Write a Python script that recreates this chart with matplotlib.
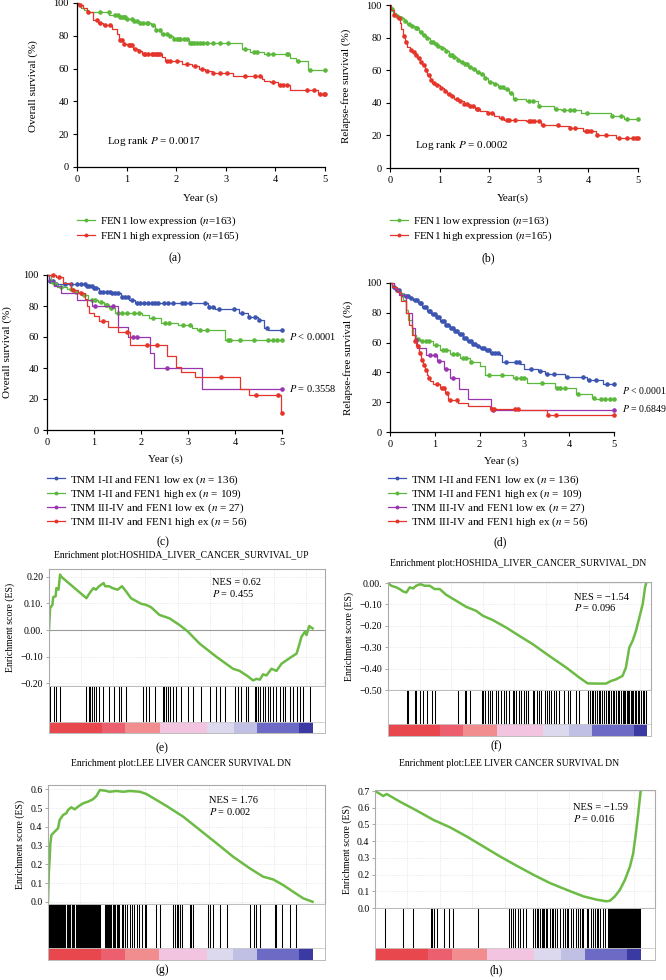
import numpy as np
import matplotlib
matplotlib.use('Agg')
import matplotlib.pyplot as plt
from matplotlib.lines import Line2D

plt.rcParams['font.family'] = ['Liberation Serif', 'DejaVu Serif']
plt.rcParams['mathtext.fontset'] = 'stix'

GREEN = '#5cb83c'
RED = '#e5352b'
BLUE = '#3b55b0'
PURPLE = '#9a35b0'
ES_GREEN = '#6cbb45'

# ---------------- Kaplan-Meier data (years, %) ----------------
# (a) overall survival
a_low_t = [0, 0.03, 0.08, 0.15, 0.22, 0.65, 0.85, 0.99, 1.12, 1.25, 1.5, 1.58, 1.7, 1.85, 1.93,
           2.25, 3.32, 3.48, 3.78, 4.3, 4.42, 4.65, 5.0]
a_low_s = [100, 98.5, 97, 96, 94.5, 92.5, 91.5, 90.4, 89, 88, 86.4, 83.3, 81.3, 80, 77.8,
           75.6, 72, 70, 68.7, 66.7, 64.4, 59.3, 59.3]
a_low_c = [0.47, 0.64, 0.77, 0.82, 0.87, 0.91, 0.94, 0.97, 1.01, 1.11, 1.14, 1.21, 1.28, 1.34, 1.41,
           1.44, 1.54, 1.6, 1.68, 1.74, 1.81, 1.88, 1.95, 2.01, 2.05, 2.08, 2.15, 2.21, 2.28, 2.32,
           2.35, 2.42, 2.48, 2.55, 2.62, 2.75, 2.89, 3.05, 3.39, 3.56, 3.62, 3.85, 3.96, 4.23, 4.26,
           4.46, 4.7, 5.0]
a_high_t = [0, 0.05, 0.12, 0.2, 0.33, 0.42, 0.52, 0.7, 0.8, 0.84, 0.92, 1.02, 1.12, 1.22, 1.32, 1.72,
            1.78, 2.12, 2.32, 2.45, 2.58, 2.72, 3.15, 3.72, 3.78, 3.9, 4.05, 4.3, 4.85, 5.0]
a_high_s = [100, 98.5, 97, 94.5, 89.4, 88, 86.4, 84.3, 81.3, 77.2, 75.2, 74.2, 72, 70.7, 69, 67,
            64.4, 62.6, 61.4, 60, 58.5, 57.3, 55.3, 53.9, 52.4, 51.8, 49.8, 47.2, 44.3, 44.3]
a_high_c = [0.07, 0.23, 0.4, 0.47, 0.57, 0.67, 0.87, 0.9, 0.95, 1.05, 1.07, 1.11, 1.17, 1.24, 1.35,
            1.38, 1.44, 1.51, 1.54, 1.58, 1.61, 1.64, 1.68, 1.81, 1.88, 2.01, 2.21, 2.37, 2.52, 2.62,
            2.75, 2.89, 3.02, 3.39, 3.59, 3.69, 3.95, 4.09, 4.16, 4.23, 4.63, 4.77, 4.9, 4.97, 5.0]

# (b) relapse-free survival
b_low_t = [0, 0.02, 0.06, 0.12, 0.2, 0.28, 0.35, 0.42, 0.5, 0.58, 0.65, 0.72, 0.8, 0.88, 0.95, 1.02,
           1.1, 1.18, 1.26, 1.35, 1.42, 1.5, 1.58, 1.66, 1.74, 1.82, 1.9, 1.98, 2.08, 2.18, 2.3, 2.4,
           2.48, 2.75, 2.98, 3.3, 3.45, 3.85, 4.45, 4.72, 5.0]
b_low_s = [100, 97.5, 95, 93, 91.8, 90, 88.5, 87, 85.7, 83.5, 81.5, 80, 77.6, 76, 75, 73.5, 71.5,
           69.5, 68, 66.5, 65, 63.5, 62, 60.5, 59, 57.5, 55.5, 53, 51.5, 49.5, 48.4, 46, 42.2, 40.8,
           38.2, 36.1, 35.3, 33.7, 32.0, 30.2, 30.2]
b_low_c = [0.05, 0.15, 0.22, 0.3, 0.38, 0.45, 0.52, 0.55, 0.62, 0.68, 0.75, 0.82, 0.86, 0.92, 0.97,
           1.05, 1.12, 1.2, 1.24, 1.3, 1.38, 1.45, 1.52, 1.55, 1.62, 1.7, 1.78, 1.85, 1.92, 2.02,
           2.12, 2.22, 2.27, 2.35, 2.44, 2.52, 2.8, 2.88, 3.0, 3.35, 3.5, 3.62, 3.7, 3.98, 4.48,
           4.65, 4.78, 5.0]
b_high_t = [0, 0.03, 0.08, 0.15, 0.2, 0.23, 0.26, 0.3, 0.35, 0.4, 0.45, 0.5, 0.55, 0.6, 0.65, 0.7,
            0.75, 0.8, 0.85, 0.9, 1.0, 1.08, 1.15, 1.22, 1.3, 1.4, 1.5, 1.6, 1.72, 1.82, 1.95, 2.1,
            2.2, 2.3, 2.75, 3.05, 3.4, 3.6, 3.9, 4.15, 4.55, 5.0]
b_high_s = [100, 97, 94, 92, 88.8, 85, 81, 77.5, 74.5, 72.5, 71, 69.4, 67.5, 65.3, 63, 60.2, 57, 54,
            52, 51, 49, 47, 45.5, 44, 42.5, 40.8, 39.5, 38.2, 36.5, 35.1, 33.7, 32, 30.6, 29.6, 28.6,
            26.5, 25.5, 24.5, 22.4, 20.4, 18.4, 18.4]
b_high_c = [0.08, 0.18, 0.28, 0.33, 0.42, 0.48, 0.52, 0.58, 0.62, 0.68, 0.72, 0.78, 0.82, 0.88, 0.95,
            1.02, 1.1, 1.18, 1.25, 1.35, 1.42, 1.5, 1.55, 1.62, 1.68, 1.75, 1.78, 1.98, 2.05, 2.25,
            2.35, 2.4, 2.52, 2.8, 2.85, 2.9, 3.0, 3.08, 3.38, 3.62, 3.72, 3.95, 4.0, 4.05, 4.18,
            4.35, 4.62, 4.78, 4.9, 4.95, 5.0]

# (c) overall survival by TNM stage
c_blue_t = [0, 0.05, 0.15, 0.82, 0.98, 1.1, 1.38, 1.58, 1.74, 1.88, 3.42, 3.58, 4.08, 4.28, 4.48,
            4.62, 4.7, 5.0]
c_blue_s = [100, 96, 94.5, 92.9, 91.4, 89.2, 88.2, 86, 83.9, 81.7, 79.6, 78.1, 75.7, 73.1, 71, 66,
            64.5, 64.5]
c_blue_c = [0.06, 0.13, 0.2, 0.38, 0.52, 0.63, 0.73, 0.8, 0.85, 0.9, 0.95, 1.0, 1.05, 1.12, 1.19,
            1.27, 1.34, 1.39, 1.44, 1.51, 1.59, 1.66, 1.73, 1.8, 1.92, 1.98, 2.06, 2.15, 2.23, 2.3,
            2.37, 2.48, 2.58, 2.69, 2.87, 2.94, 3.04, 3.36, 3.44, 3.54, 3.65, 3.97, 4.15, 4.29,
            4.43, 4.5, 4.68, 5.0]
c_green_t = [0, 0.08, 0.22, 0.42, 0.58, 0.72, 0.88, 1.08, 1.22, 1.32, 1.44, 2.02, 2.18, 2.42, 2.78,
             3.08, 3.2, 3.78, 5.0]
c_green_s = [100, 95, 92, 90.8, 89.2, 87, 83.9, 82.8, 80.6, 78.5, 75.3, 74.2, 72, 68.8, 67.7, 65.5,
             64.5, 58, 58]
c_green_c = [0.15, 0.3, 0.5, 0.62, 0.78, 0.95, 1.02, 1.15, 1.25, 1.28, 1.36, 1.5, 1.6, 1.7, 1.85,
             1.95, 2.25, 2.5, 2.6, 2.9, 3.05, 3.25, 3.4, 3.85, 3.9, 4.1, 4.4, 4.7, 4.8, 4.9, 5.0]
c_purple_t = [0, 0.05, 0.15, 0.3, 0.64, 0.95, 1.5, 1.72, 2.2, 2.27, 3.3, 5.0]
c_purple_s = [100, 96, 92.6, 88.2, 84, 80, 66.6, 60.2, 49.5, 39.8, 26.3, 26.3]
c_purple_c = [1.02, 1.4, 1.83, 1.92, 2.55, 5.0]
c_red_t = [0, 0.2, 0.35, 0.5, 0.65, 0.8, 0.85, 0.9, 1.0, 1.1, 1.3, 1.51, 1.76, 2.55, 2.75, 2.85,
           3.15, 4.1, 4.3, 4.98, 5.0]
c_red_s = [100, 98.7, 94.6, 90.3, 88.2, 84.3, 80, 75.3, 73.5, 70.3, 66.7, 63.5, 54.8, 47.7, 40.9,
           37.2, 34.4, 26.3, 22.6, 11.2, 11.2]
c_red_c = [0.13, 0.25, 0.55, 0.72, 1.2, 1.7, 2.13, 2.33, 3.7, 4.45, 4.92, 5.0]

# (d) relapse-free survival by TNM stage
d_blue_t = [0, 0.05, 0.12, 0.22, 0.32, 0.42, 0.52, 0.62, 0.72, 0.82, 0.92, 1.02, 1.12, 1.22, 1.33,
            1.42, 1.52, 1.62, 1.71, 1.82, 1.92, 2.0, 2.12, 2.23, 2.45, 2.5, 2.9, 3.0, 3.3, 3.45,
            3.9, 4.4, 4.75, 5.0]
d_blue_s = [100, 97.5, 95, 92.2, 91, 90, 88.8, 86.5, 84, 81.5, 79.5, 77.5, 74.8, 72, 69.8, 67.5,
            65.5, 63, 60.8, 59.2, 57.8, 56.4, 54.8, 53, 51.9, 47, 45.6, 42.3, 40.7, 39.1, 36.9, 35.1,
            32.4, 32.4]
d_blue_c = [0.08, 0.15, 0.2, 0.28, 0.35, 0.4, 0.46, 0.55, 0.6, 0.66, 0.7, 0.76, 0.8, 0.86, 0.9,
            0.96, 1.0, 1.06, 1.1, 1.16, 1.2, 1.26, 1.3, 1.36, 1.4, 1.45, 1.5, 1.56, 1.6, 1.66, 1.7,
            1.76, 1.8, 1.86, 1.9, 1.96, 2.05, 2.1, 2.16, 2.2, 2.28, 2.35, 2.42, 2.6, 2.82, 2.88,
            3.15, 3.35, 3.5, 3.65, 3.95, 4.3, 4.45, 4.6, 4.85, 5.0]
d_green_t = [0, 0.08, 0.2, 0.3, 0.35, 0.4, 0.5, 0.52, 0.58, 0.67, 0.97, 1.11, 1.34, 1.56, 1.78,
             2.0, 2.12, 2.75, 3.05, 3.68, 4.16, 4.5, 4.58, 5.0]
d_green_s = [100, 96, 93.3, 88.8, 82, 75.3, 69.8, 65.3, 62.5, 60.8, 58.6, 54.8, 52.6, 49.7, 47, 44,
             38.5, 36.2, 32.9, 29.5, 25.7, 22.8, 22, 22]
d_green_c = [0.62, 0.72, 0.8, 0.88, 1.02, 1.18, 1.25, 1.4, 1.5, 1.62, 1.7, 1.8, 2.2, 2.5, 2.82,
             2.92, 3.0, 3.4, 3.72, 3.8, 3.9, 4.2, 4.55, 4.7, 4.8, 4.9, 5.0]
d_purple_t = [0, 0.1, 0.2, 0.35, 0.5, 0.55, 0.6, 0.8, 1.05, 1.2, 1.35, 1.55, 1.75, 2.25, 5.0]
d_purple_s = [100, 96, 92, 80.1, 69.8, 62, 56.4, 51.9, 47.4, 42.3, 36.2, 28.9, 22.2, 14.6, 14.6]
d_purple_c = [0.58, 0.9, 1.0, 1.1, 1.25, 1.4, 2.3, 5.0]
d_red_t = [0, 0.05, 0.15, 0.25, 0.35, 0.42, 0.48, 0.55, 0.59, 0.64, 0.7, 0.74, 0.78, 0.82, 0.85,
           0.9, 0.97, 1.11, 1.23, 1.3, 1.52, 1.75, 2.23, 2.86, 3.5, 5.0]
d_red_s = [100, 97, 94, 88, 80, 72, 65, 61, 57.5, 53, 48.5, 45, 41.8, 38.5, 36.2, 34, 32.4, 29.5,
           26.1, 21.7, 19.5, 17.2, 15.4, 15, 11.6, 11.6]
d_red_c = [0.55, 0.62, 0.68, 0.72, 0.76, 0.8, 0.88, 1.05, 1.15, 1.2, 1.28, 1.35, 1.5, 2.28, 2.32,
           2.8, 2.85, 3.52, 3.7, 5.0]

# ---------------- GSEA data (gene rank scaled 0-1000) ----------------
e_rank = [0, 4, 13, 16, 25, 28, 36, 42, 44, 142, 150, 159, 169, 178, 190, 207, 213, 228, 241, 260,
          277, 292, 311, 349, 368, 387, 419, 457, 495, 527, 571, 635, 698, 723, 755, 774, 787, 800,
          812, 825, 844, 863, 882, 901, 920, 939, 945, 958, 971, 977, 987, 1000]
e_es = [0.0, 0.082, 0.095, 0.124, 0.127, 0.158, 0.152, 0.209, 0.203, 0.12, 0.133, 0.146, 0.158,
        0.152, 0.165, 0.177, 0.165, 0.165, 0.158, 0.152, 0.165, 0.146, 0.12, 0.099, 0.095, 0.086,
        0.057, 0.044, 0.019, -0.006, -0.051, -0.101, -0.146, -0.154, -0.175, -0.19, -0.184, -0.187,
        -0.167, -0.171, -0.146, -0.154, -0.127, -0.114, -0.101, -0.089, -0.07, -0.025, -0.006,
        -0.019, 0.015, 0.006]
e_hits = [3, 19, 28, 41, 140, 150, 155, 162, 169, 178, 190, 203, 228, 247, 264, 273, 292, 358, 368,
          378, 404, 431, 438, 444, 451, 459, 470, 482, 501, 527, 546, 577, 612, 635, 650, 666, 704,
          717, 730, 746, 755, 780, 787, 793, 799, 812, 819, 831, 840, 850, 863, 876, 888, 895, 914,
          926, 939, 952, 964, 990]

f_rank = [0, 13, 32, 45, 58, 71, 84, 97, 109, 125, 142, 161, 180, 200, 225, 264, 302, 341, 367, 405,
          457, 508, 560, 624, 689, 740, 772, 804, 843, 862, 882, 907, 920, 933, 946, 959, 972, 985,
          994, 1000]
f_es = [0.0, -0.0125, -0.02, -0.028, -0.039, -0.044, -0.02, -0.025, -0.0125, -0.005, -0.0125,
        -0.0125, -0.028, -0.028, -0.055, -0.083, -0.111, -0.13, -0.153, -0.173, -0.208, -0.247,
        -0.286, -0.341, -0.395, -0.442, -0.469, -0.47, -0.47, -0.458, -0.45, -0.434, -0.395, -0.302,
        -0.27, -0.223, -0.161, -0.098, -0.02, 0.006]
f_hits = [73, 79, 103, 109, 125, 135, 151, 171, 180, 270, 296, 302, 318, 364, 369, 377, 386, 393,
          403, 416, 425, 438, 447, 457, 467, 483, 489, 495, 506, 515, 524, 532, 541, 560, 566, 575,
          583, 592, 609, 614, 622, 631, 640, 650, 663, 682, 695, 704, 727, 740, 772, 781, 789, 794,
          802, 807, 815, 820, 828, 837, 843, 849, 856, 862, 869, 875, 882, 888, 894, 901, 907, 914,
          918, 923, 928, 933, 938, 943, 949, 954, 959, 965, 972, 978, 985, 991, 997]

g_rank = [0, 3, 6, 9, 13, 25, 38, 44, 57, 69, 76, 88, 101, 113, 132, 151, 170, 183, 196, 214, 233,
          259, 284, 309, 347, 372, 410, 448, 511, 574, 637, 700, 763, 813, 851, 889, 927, 965, 1000]
g_es = [0.0, 0.151, 0.223, 0.312, 0.356, 0.374, 0.392, 0.436, 0.463, 0.472, 0.49, 0.504, 0.493,
        0.507, 0.525, 0.534, 0.547, 0.564, 0.596, 0.593, 0.587, 0.591, 0.587, 0.591, 0.587, 0.575,
        0.543, 0.511, 0.454, 0.383, 0.312, 0.24, 0.178, 0.134, 0.119, 0.089, 0.053, 0.018, 0.0]
g_hits = [0, 3, 6, 9, 12, 15, 19, 22, 26, 30, 34, 38, 42, 45, 50, 54, 58, 62, 65, 70, 74, 78, 82,
          85, 89, 92, 96, 100, 105, 109, 112, 116, 120, 124, 128, 132, 135, 140, 144, 148, 152, 155,
          159, 162, 166, 170, 174, 178, 182, 185, 190, 194, 198, 215, 220, 224, 228, 232, 235, 240,
          244, 248, 255, 262, 266, 270, 278, 285, 292, 300, 310, 318, 325, 335, 345, 355, 365, 372,
          410, 422, 473, 479, 486, 492, 498, 508, 536, 542, 549, 605, 614, 624, 649, 675, 763, 778,
          788, 801, 857, 861, 883, 914, 939]

h_rank = [0, 19, 31, 44, 94, 157, 220, 282, 345, 408, 471, 533, 596, 659, 721, 784, 834, 872, 885,
          903, 922, 941, 960, 972, 982, 991, 1000]
h_es = [0.7, 0.682, 0.67, 0.682, 0.636, 0.583, 0.527, 0.483, 0.428, 0.368, 0.308, 0.253, 0.199,
        0.149, 0.109, 0.07, 0.05, 0.04, 0.044, 0.07, 0.109, 0.169, 0.249, 0.328, 0.447, 0.567, 0.7]
h_hits = [38, 107, 142, 211, 216, 222, 235, 261, 280, 292, 389, 506, 511, 521, 527, 540, 546, 558,
          569, 596, 602, 609, 615, 621, 628, 634, 638, 644, 649, 659, 665, 671, 678, 686, 697, 707,
          715, 722, 728, 737, 747, 757, 763, 772, 778, 784, 797, 803, 812, 822, 828, 835, 841, 847,
          857, 866, 878, 881, 884, 887, 890, 893, 896, 899, 902, 905, 908, 911, 914, 917, 920, 923,
          926, 929, 932, 935, 938, 941, 944, 947, 950, 953, 956, 959, 962, 965, 968, 971, 974, 977,
          980, 983, 986, 989, 992, 995, 998]

# ranked-list colour bar bands
band_edges = [0, 200, 290, 420, 600, 700, 790, 950, 1000]
band_colors = ['#e8474d', '#eb5f6e', '#f28d8f', '#f2c4df', '#dcd9ef', '#c0bfe4', '#6d6ac6', '#3b3aa3']

W, H = 666, 980
fig = plt.figure(figsize=(W / 100, H / 100), dpi=100)


def rect(x0, y0, x1, y1):
    return [x0 / W, 1 - y1 / H, (x1 - x0) / W, (y1 - y0) / H]


def ftext(x, y, s, **kw):
    fig.text(x / W, 1 - y / H, s, **kw)


def km_axes(r):
    ax = fig.add_axes(r)
    ax.set_xlim(0, 5)
    ax.set_ylim(0, 100)
    ax.set_xticks(range(6))
    ax.set_yticks(range(0, 101, 20))
    for s in ['top', 'right']:
        ax.spines[s].set_visible(False)
    for s in ['left', 'bottom']:
        ax.spines[s].set_linewidth(0.9)
    ax.tick_params(direction='out', length=3, width=0.8, labelsize=7.5, pad=3)
    return ax


def km(ax, t, s, c, color):
    t = np.array(t)
    s = np.array(s)
    ax.step(t, s, where='post', color=color, lw=0.9, clip_on=False)
    c = np.array(c)
    cy = s[np.searchsorted(t, c, side='right') - 1]
    ax.plot(c, cy, 'o', ms=2.3, color=color, clip_on=False)


def km_legend(x, y, colors, labels):
    handles = [Line2D([], [], color=col, lw=0.9, marker='o', ms=1.8) for col in colors]
    fig.legend(handles, labels, loc='upper left', bbox_to_anchor=(x / W, 1 - y / H),
               frameon=False, fontsize=8, handlelength=1.6, handletextpad=0.5,
               labelspacing=0.07, borderpad=0, borderaxespad=0)


# (a)
ax = km_axes(rect(77, 3, 325, 167))
km(ax, a_low_t, a_low_s, a_low_c, GREEN)
km(ax, a_high_t, a_high_s, a_high_c, RED)
ax.text(0.6, 14, 'Log rank $P$ = 0.0017', fontsize=8)
ftext(33, 86, 'Overall survival (%)', rotation=90, ha='center', va='center', fontsize=8)
ftext(200, 198, 'Year (s)', ha='center', va='center', fontsize=8)
km_legend(77, 215, [GREEN, RED], ['FEN1 low expression ($n$=163)', 'FEN1 high expression ($n$=165)'])
ftext(175, 258, '(a)', ha='center', va='center', fontsize=8.5)

# (b)
ax = km_axes(rect(390, 5, 638, 168))
km(ax, b_low_t, b_low_s, b_low_c, GREEN)
km(ax, b_high_t, b_high_s, b_high_c, RED)
ax.text(0.5, 12, 'Log rank $P$ = 0.0002', fontsize=8)
ftext(346, 86, 'Relapse-free survival (%)', rotation=90, ha='center', va='center', fontsize=8)
ftext(513, 198, 'Year(s)', ha='center', va='center', fontsize=8)
km_legend(390, 215, [GREEN, RED], ['FEN1 low expression ($n$=163)', 'FEN1 high expression ($n$=165)'])
ftext(488, 258, '(b)', ha='center', va='center', fontsize=8.5)

tnm_labels = ['TNM I-II and FEN1 low ex ($n$ = 136)', 'TNM I-II and FEN1 high ex ($n$ = 109)',
              'TNM III-IV and FEN1 low ex ($n$ = 27)', 'TNM III-IV and FEN1 high ex ($n$ = 56)']
tnm_colors = [BLUE, GREEN, PURPLE, RED]

# (c)
ax = km_axes(rect(47, 275, 282, 430))
km(ax, c_blue_t, c_blue_s, c_blue_c, BLUE)
km(ax, c_green_t, c_green_s, c_green_c, GREEN)
km(ax, c_purple_t, c_purple_s, c_purple_c, PURPLE)
km(ax, c_red_t, c_red_s, c_red_c, RED)
ftext(289, 336, '$P$ < 0.0001', va='center', fontsize=7.5)
ftext(289, 389, '$P$ = 0.3558', va='center', fontsize=7.5)
ftext(7, 352, 'Overall survival (%)', rotation=90, ha='center', va='center', fontsize=8)
ftext(165, 459, 'Year (s)', ha='center', va='center', fontsize=8)
km_legend(47, 473, tnm_colors, tnm_labels)
ftext(163, 542, '(c)', ha='center', va='center', fontsize=8.5)

# (d)
ax = km_axes(rect(390, 283, 614, 432))
km(ax, d_blue_t, d_blue_s, d_blue_c, BLUE)
km(ax, d_green_t, d_green_s, d_green_c, GREEN)
km(ax, d_purple_t, d_purple_s, d_purple_c, PURPLE)
km(ax, d_red_t, d_red_s, d_red_c, RED)
ftext(622, 390, '$P$ < 0.0001', va='center', fontsize=7)
ftext(622, 408, '$P$ = 0.6849', va='center', fontsize=7)
ftext(348, 358, 'Relapse-free survival (%)', rotation=90, ha='center', va='center', fontsize=8)
ftext(501, 461, 'Year (s)', ha='center', va='center', fontsize=8)
km_legend(388, 473, tnm_colors, tnm_labels)
ftext(500, 542, '(d)', ha='center', va='center', fontsize=8.5)


def gsea(x0, x1, y_top, y_es, y_bar, y_bot, rank, es, hits, ylim, yticks, yticklabels, xmax,
         title, title_xy, nes, pval, txt_xy, zero_line=False):
    ax = fig.add_axes(rect(x0, y_top, x1, y_es))
    ax.set_xlim(0, xmax)
    ax.set_ylim(*ylim)
    ax.set_xticks(np.arange(122, xmax, 122))
    ax.set_yticks(yticks)
    ax.set_yticklabels(yticklabels)
    ax.tick_params(axis='x', length=0, labelbottom=False)
    ax.tick_params(axis='y', length=2, width=0.6, color='#999999', labelsize=7, pad=2)
    ax.grid(True, color='#d8d8d8', lw=0.5, ls=':')
    for s in ax.spines.values():
        s.set_color('#aaaaaa')
        s.set_linewidth(0.8)
    if zero_line:
        ax.axhline(0, color='#9a9a9a', lw=0.8)
    ax.plot(rank, es, color=ES_GREEN, lw=1.8)
    ax.text(txt_xy[0], txt_xy[1], nes, transform=ax.transAxes, fontsize=7.5)
    ax.text(txt_xy[0], txt_xy[1] - 0.1, pval, transform=ax.transAxes, fontsize=7.5)
    ax.set_ylabel('Enrichment score (ES)', fontsize=7, labelpad=4)

    ax2 = fig.add_axes(rect(x0, y_es, x1, y_bot))
    bar_frac = (y_bot - y_bar) / (y_bot - y_es)
    ax2.set_xlim(0, xmax)
    ax2.set_ylim(0, 1)
    ax2.set_xticks([])
    ax2.set_yticks([])
    for s in ax2.spines.values():
        s.set_color('#bbbbbb')
        s.set_linewidth(0.7)
    ax2.vlines(hits, bar_frac, 1, color='black', lw=0.75)
    ax2.axhline(bar_frac, color='#cccccc', lw=0.6)
    ax2.barh(bar_frac / 2, np.diff(band_edges), left=band_edges[:-1], height=bar_frac,
             color=band_colors, linewidth=0)
    ftext(title_xy[0], title_xy[1], title, ha='center', va='center', fontsize=6.9)


gsea(49, 325, 569, 686, 722, 733, e_rank, e_es, e_hits, (-0.211, 0.23),
     [-0.2, -0.1, 0.0, 0.1, 0.2], ['\u22120.20', '\u22120.10', '0.00.', '0.10.', '0.20'], 1047,
     'Enrichment plot:HOSHIDA_LIVER_CANCER_SURVIVAL_UP', (181, 555), 'NES = 0.62', '$P$ = 0.455',
     (0.59, 0.86), zero_line=True)
ftext(162, 748, '(e)', ha='center', va='center', fontsize=8.5)

gsea(388, 651, 582, 690, 724, 736, f_rank, f_es, f_hits, (-0.5, 0.005),
     [0.0, -0.1, -0.2, -0.3, -0.4, -0.5],
     ['0.00.', '\u22120.10', '\u22120.20', '\u22120.30', '\u22120.40', '\u22120.50'], 1017,
     'Enrichment plot:HOSHIDA_LIVER_CANCER_SURVIVAL_DN', (518, 563), 'NES = \u22121.54',
     '$P$ = 0.096', (0.707, 0.83))
ftext(496, 746, '(f)', ha='center', va='center', fontsize=8.5)

gsea(48, 325, 785, 904, 948, 960, g_rank, g_es, g_hits, (-0.012, 0.623),
     [0.0, 0.1, 0.2, 0.3, 0.4, 0.5, 0.6], ['0.0', '0.1', '0.2', '0.3', '0.4', '0.5', '0.6'], 1047,
     'Enrichment plot:LEE LIVER CANCER SURVIVAL DN', (181, 763), 'NES = 1.76', '$P$ = 0.002',
     (0.58, 0.85))
ftext(162, 970, '(g)', ha='center', va='center', fontsize=8.5)

gsea(375, 655, 790, 908, 948, 960, h_rank, h_es, h_hits, (0.0, 0.706),
     [0.0, 0.1, 0.2, 0.3, 0.4, 0.5, 0.6, 0.7],
     ['0.0', '0.1', '0.2', '0.3', '0.4', '0.5', '0.6', '0.7'], 1054,
     'Enrichment plot:LEE LIVER CANCER SURVIVAL DN', (509, 763), 'NES = \u22121.59', '$P$ = 0.016',
     (0.707, 0.83))
ftext(496, 970, '(h)', ha='center', va='center', fontsize=8.5)

fig.savefig('out.png', dpi=100)
